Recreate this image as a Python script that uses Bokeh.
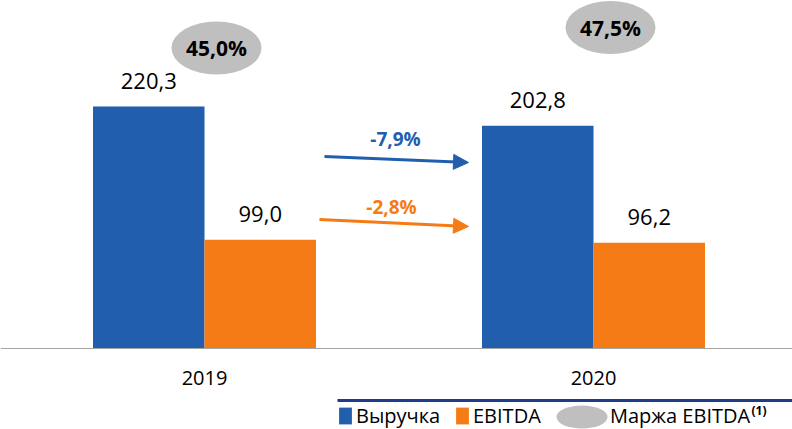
from bokeh.plotting import figure
from bokeh.models import Range1d, Arrow, NormalHead, Legend, LegendItem, Span
from bokeh.core.properties import value
from bokeh.embed import file_html
from bokeh.resources import INLINE

# ---- data ----
years = ["2019", "2020"]
revenue = [220.3, 202.8]
ebitda = [99.0, 96.2]
margin = [45.0, 47.5]
rev_change = -7.9
ebitda_change = -2.8
legend_labels = ["Выручка", "EBITDA", "Маржа EBITDA"]

def fmt(v):
    return f"{v:.1f}".replace(".", ",")

# ---- style / layout ----
BLUE = "#215EAE"
ORANGE = "#F47B16"
GRAY = "#BFBFBF"
NAVY = "#1F3C88"
FONT = value("Open Sans")
W, H = 792, 429
OFF = 0
X_PX = 389.0
X_LEFT = -(204.0 - OFF) / X_PX
Y_PER_PX = 220.3 / 242.0
Y_TOP = (348.0 - OFF) * Y_PER_PX
BAR_W = 111.5 / X_PX

def dx(px):
    return X_LEFT + (px - OFF) / X_PX

def dy(py):
    return Y_TOP - (py - OFF) * Y_PER_PX

idx = list(range(len(years)))

p = figure(width=W, height=H, output_backend="svg", toolbar_location=None,
           x_range=Range1d(X_LEFT, X_LEFT + W / X_PX),
           y_range=Range1d(Y_TOP - H * Y_PER_PX, Y_TOP),
           min_border=0)
p.axis.visible = False
p.grid.visible = False
p.outline_line_color = None
p.background_fill_color = "white"

p.add_layout(Span(location=0, dimension="width", line_color="#A6A6A6", line_width=1))

rev_r = p.vbar(x=[i - BAR_W / 2 for i in idx], top=revenue, width=BAR_W,
               fill_color=BLUE, line_color=None)
ebd_r = p.vbar(x=[i + BAR_W / 2 for i in idx], top=ebitda, width=BAR_W,
               fill_color=ORANGE, line_color=None)

p.text(x=[i - BAR_W / 2 for i in idx], y=revenue, text=[fmt(v) for v in revenue],
       text_align="center", text_baseline="middle", y_offset=-26,
       text_font=FONT, text_font_size="22px", text_color="black")
p.text(x=[i + BAR_W / 2 for i in idx], y=ebitda, text=[fmt(v) for v in ebitda],
       text_align="center", text_baseline="middle", y_offset=-26,
       text_font=FONT, text_font_size="22px", text_color="black")

# margin ellipses
ell_x = [dx(216), dx(610)]
ell_y = [dy(47.5), dy(27)]
mar_r = p.ellipse(x=ell_x, y=ell_y, width=90, height=53, width_units="screen",
                  height_units="screen", fill_color=GRAY, line_color=None)
p.text(x=ell_x, y=ell_y, text=[fmt(v) + "%" for v in margin], text_align="center",
       text_baseline="middle", text_font=FONT, text_font_size="21px",
       text_font_style="bold", text_color="black")

# change arrows
p.add_layout(Arrow(end=NormalHead(size=15, fill_color=BLUE, line_color=BLUE),
                   x_start=dx(324), y_start=dy(156), x_end=dx(468), y_end=dy(162),
                   line_color=BLUE, line_width=3))
p.add_layout(Arrow(end=NormalHead(size=15, fill_color=ORANGE, line_color=ORANGE),
                   x_start=dx(319), y_start=dy(219), x_end=dx(468), y_end=dy(226),
                   line_color=ORANGE, line_width=3))
p.text(x=[dx(395)], y=[dy(138)], text=[fmt(rev_change) + "%"], text_align="center",
       text_baseline="middle", text_font=FONT, text_font_size="19px",
       text_font_style="bold", text_color=BLUE)
p.text(x=[dx(391)], y=[dy(206)], text=[fmt(ebitda_change) + "%"], text_align="center",
       text_baseline="middle", text_font=FONT, text_font_size="19px",
       text_font_style="bold", text_color=ORANGE)

# category labels
p.text(x=idx, y=[dy(377)] * len(idx), text=years, text_align="center",
       text_baseline="middle", text_font=FONT, text_font_size="20px", text_color="black")

# legend
p.segment(x0=[dx(337)], y0=[dy(400)], x1=[dx(792)], y1=[dy(400)],
          line_color=NAVY, line_width=3)
p.ellipse(x=[dx(581.5)], y=[dy(416.5)], width=51, height=23, width_units="screen",
          height_units="screen", fill_color=GRAY, line_color=None)

def mk_legend(renderer, label, left, gw):
    lg = Legend(items=[LegendItem(label=label, renderers=[renderer])],
                location=(left - OFF, 0), orientation="horizontal",
                glyph_width=gw, glyph_height=21, label_standoff=3,
                padding=0, margin=0, spacing=0, border_line_color=None,
                background_fill_alpha=0, label_text_font="Open Sans",
                label_text_font_size="20px", label_text_color="black")
    p.add_layout(lg)

mk_legend(rev_r, legend_labels[0], 337, 16)
mk_legend(ebd_r, legend_labels[1], 454, 16)
mk_legend(mar_r, legend_labels[2], 556, 51)

p.text(x=[dx(751)], y=[dy(410)], text=["(1)"], text_align="left",
       text_baseline="middle", text_font=FONT, text_font_size="12px",
       text_font_style="bold", text_color="black")

open("out.html", "w").write(file_html(p, INLINE))
